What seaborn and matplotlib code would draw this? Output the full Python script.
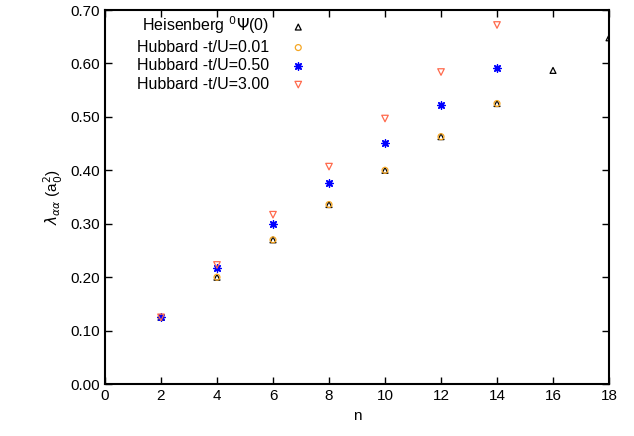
import matplotlib
matplotlib.use("Agg")
import matplotlib.pyplot as plt
import seaborn as sns
import pandas as pd

n_heis = [2, 4, 6, 8, 10, 12, 14, 16, 18]
heis = [0.125, 0.200, 0.270, 0.336, 0.400, 0.463, 0.525, 0.587, 0.648]
n_hub = [2, 4, 6, 8, 10, 12, 14]
hub001 = [0.125, 0.200, 0.270, 0.336, 0.400, 0.463, 0.525]
hub050 = [0.125, 0.217, 0.300, 0.377, 0.451, 0.522, 0.592]
hub300 = [0.125, 0.223, 0.317, 0.407, 0.497, 0.584, 0.672]
labels = ["Heisenberg $^0\\Psi$(0)", "Hubbard -t/U=0.01", "Hubbard -t/U=0.50", "Hubbard -t/U=3.00"]

sns.set_style("ticks")
plt.rcParams['font.family'] = ['Liberation Sans', 'DejaVu Sans']
plt.rcParams['mathtext.fontset'] = 'dejavusans'
for k in ['text.color', 'axes.labelcolor', 'xtick.color', 'ytick.color', 'axes.edgecolor']:
    plt.rcParams[k] = 'black'

fig = plt.figure(figsize=(6.34, 4.36), dpi=100)
ax = fig.add_axes([0.1656, 0.119, 0.795, 0.858])

series = [
    (n_heis, heis, labels[0], '^', 'black', 18),
    (n_hub, hub001, labels[1], 'o', '#f5a623', 18),
    (n_hub, hub050, labels[2], (8, 2, 0), '#0000ff', 28),
    (n_hub, hub300, labels[3], 'v', '#ff6a4d', 22),
]
for xs, ys, lab, m, c, s in series:
    df = pd.DataFrame({"n": xs, "v": ys})
    if m == (8, 2, 0):
        sns.scatterplot(data=df, x="n", y="v", ax=ax, marker=m, s=s, color=c,
                        linewidth=1.0, label=lab)
    else:
        sns.scatterplot(data=df, x="n", y="v", ax=ax, marker=m, s=s,
                        facecolors='none', edgecolor=c, linewidth=0.9, label=lab)

ax.set_xlim(0, 18)
ax.set_ylim(0, 0.70)
ax.set_xticks(range(0, 19, 2))
ax.set_yticks([0.0, 0.1, 0.2, 0.3, 0.4, 0.5, 0.6, 0.7])
ax.set_yticklabels([f"{v:.2f}" for v in [0.0, 0.1, 0.2, 0.3, 0.4, 0.5, 0.6, 0.7]])
ax.tick_params(direction='in', top=True, right=True, labelsize=11, length=5, width=1)
for sp in ax.spines.values():
    sp.set_linewidth(1.5)
ax.set_xlabel("n", fontsize=11)
ax.set_ylabel("$\\lambda_{\\alpha\\alpha}$ (a$_0^2$)", fontsize=11)

leg = ax.legend(loc='upper left', bbox_to_anchor=(0.05, 1.005), frameon=False,
                markerfirst=False, fontsize=11.5, handletextpad=0.85, labelspacing=0.22,
                borderaxespad=0.0)
for t in leg.get_texts():
    t.set_ha('right')
fig.savefig("out.png", dpi=100)
